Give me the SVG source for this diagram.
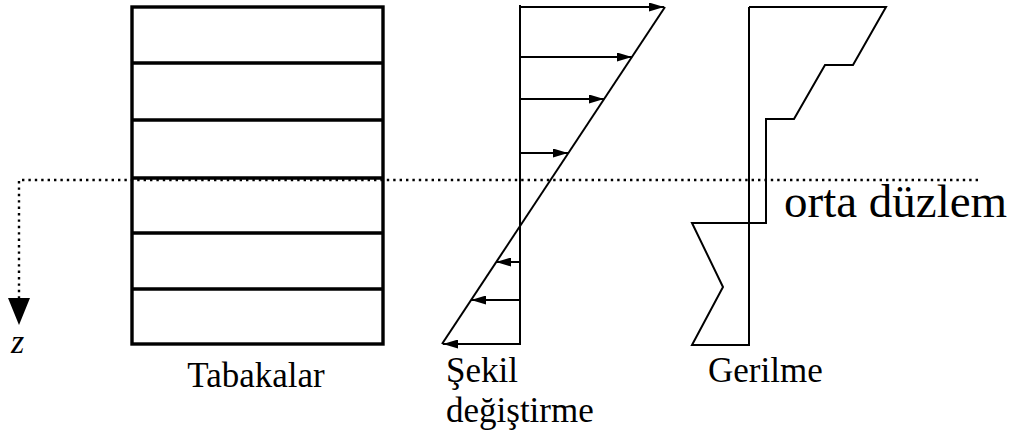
<svg xmlns="http://www.w3.org/2000/svg" width="1021" height="434" viewBox="0 0 1021 434">
<style>
text{font-family:'Liberation Serif','Times New Roman',serif;fill:#000}
.thick{fill:none;stroke:#000;stroke-width:3.4}
.thin{fill:none;stroke:#000;stroke-width:2}
.dot{fill:none;stroke:#000;stroke-width:2.4;stroke-dasharray:2.4 4}
</style>
<defs>
<marker id="ah" markerWidth="15" markerHeight="9" refX="15" refY="4.5" orient="auto" markerUnits="userSpaceOnUse">
<path d="M0,0 L15,4.5 L0,9 Z" fill="#000"/>
</marker>
</defs>
<rect width="1021" height="434" fill="#fff"/>
<g id="axis">
<path class="dot" d="M978,180 H19 V298"/>
<path d="M8,298 L30,298 L19,325 Z" fill="#000"/>
<text x="11" y="353" font-size="34" font-style="italic">z</text>
<text x="784" y="217" font-size="47">orta düzlem</text>
</g>
<g id="tabakalar">
<rect class="thick" x="132" y="7" width="251" height="337"/>
<path class="thick" d="M132,63 H383 M132,120 H383 M132,178 H383 M132,233 H383 M132,289 H383"/>
<text x="256" y="387" font-size="35" text-anchor="middle">Tabakalar</text>
</g>
<g id="sekil">
<path class="thin" d="M520,5 V345"/>
<path class="thin" d="M665,7 L442,344"/>
<text x="446" y="382" font-size="35">Şekil</text>
<text x="446" y="422" font-size="35">değiştirme</text>
</g>
<g id="connectors">
<path class="thin" d="M520,7 H664" marker-end="url(#ah)"/>
<path class="thin" d="M520,57 H632" marker-end="url(#ah)"/>
<path class="thin" d="M520,99 H604" marker-end="url(#ah)"/>
<path class="thin" d="M520,153 H568" marker-end="url(#ah)"/>
<path class="thin" d="M520,262 H496" marker-end="url(#ah)"/>
<path class="thin" d="M520,300 H471" marker-end="url(#ah)"/>
<path class="thin" d="M520,344 H443" marker-end="url(#ah)"/>
</g>
<g id="gerilme">
<path class="thin" d="M749,7 V346"/>
<path class="thin" d="M749,7 H886 L853,65 H825 L794,119 H766 V223 H692 L723,287 L692,345 H749"/>
<text x="708" y="382" font-size="35">Gerilme</text>
</g>
</svg>
